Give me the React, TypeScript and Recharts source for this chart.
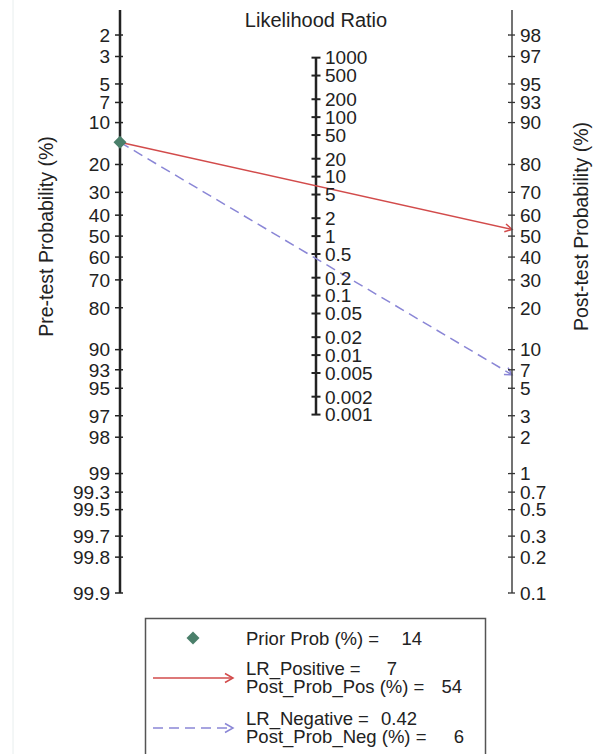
import { ComposedChart, Line, Scatter, XAxis, YAxis } from 'recharts';

const preTestTicks = [2, 3, 5, 7, 10, 20, 30, 40, 50, 60, 70, 80, 90, 93, 95, 97, 98, 99, 99.3, 99.5, 99.7, 99.8, 99.9];
const postTestTicks = [98, 97, 95, 93, 90, 80, 70, 60, 50, 40, 30, 20, 10, 7, 5, 3, 2, 1, 0.7, 0.5, 0.3, 0.2, 0.1];
const lrTicks = [1000, 500, 200, 100, 50, 20, 10, 5, 2, 1, 0.5, 0.2, 0.1, 0.05, 0.02, 0.01, 0.005, 0.002, 0.001];

const priorProb = 14;
const lrPositive = 7;
const lrNegative = 0.42;
const postProbPos = 54;
const postProbNeg = 6;

const FONT = '"Liberation Sans", Arial, sans-serif';
const RED = '#d24b4b';
const BLUE = '#8a86d6';
const GREEN = '#4a7f6a';

// Fagan nomogram: everything lives on one logit scale
const logit = (p: number) => Math.log(p / (100 - p));
const preY = (p: number) => -logit(p);
const postY = (p: number) => logit(p);
const lrY = (lr: number) => Math.log(lr) / 2;

const fmt = (list: number[], toY: (v: number) => number) => (value: number) => {
  const hit = list.find((v) => Math.abs(toY(v) - value) < 1e-6);
  return hit === undefined ? '' : String(hit);
};
const preLabel = fmt(preTestTicks, preY);
const postLabel = fmt(postTestTicks, postY);

const priorPoint = [{ x: 0, y: preY(priorProb) }];
const posLine = [
  { x: 0, y: preY(priorProb) },
  { x: 1, y: logit(priorProb) + Math.log(lrPositive) },
];
const negLine = [
  { x: 0, y: preY(priorProb) },
  { x: 1, y: logit(priorProb) + Math.log(lrNegative) },
];
const lrAxis = lrTicks.map((lr) => ({ x: 0.5, y: lrY(lr), label: String(lr) }));

const DOMAIN: [number, number] = [preY(99.9), 4.376];

const LeftTick = (props: any) => {
  const { x, y, payload } = props;
  return (
    <g>
      <line x1={x - 5} x2={x + 3} y1={y} y2={y} stroke="#222" strokeWidth={1.5} />
      <text x={x - 10} y={y} dy="0.36em" textAnchor="end" fontSize={19} fontFamily={FONT} fill="#222">
        {preLabel(payload.value)}
      </text>
    </g>
  );
};

const RightTick = (props: any) => {
  const { x, y, payload } = props;
  return (
    <g>
      <line x1={x - 4} x2={x + 3} y1={y} y2={y} stroke="#333" strokeWidth={1.3} />
      <text x={x + 8} y={y} dy="0.36em" textAnchor="start" fontSize={19} fontFamily={FONT} fill="#222">
        {postLabel(payload.value)}
      </text>
    </g>
  );
};

const LrTick = (props: any) => {
  const { cx, cy, payload } = props;
  return (
    <g>
      <line x1={cx - 4.5} x2={cx + 4.5} y1={cy} y2={cy} stroke="#222" strokeWidth={2} />
      <text x={cx + 9} y={cy} dy="0.36em" fontSize={19} fontFamily={FONT} fill="#222">
        {payload.label}
      </text>
    </g>
  );
};

const Diamond = (props: any) => {
  const { cx, cy } = props;
  return <path d={`M${cx},${cy - 6.5} L${cx + 6.5},${cy} L${cx},${cy + 6.5} L${cx - 6.5},${cy} Z`} fill={GREEN} />;
};

export default function App() {
  return (
    <div style={{ position: 'absolute', left: 0, top: 0, width: 616, height: 754, background: '#fff', overflow: 'hidden' }}>
      <ComposedChart width={616} height={754} margin={{ top: 10, right: 44, bottom: 161, left: 60 }}>
        <defs>
          <marker id="arrRed" viewBox="-10 -6 12 12" refX="0" refY="0" markerWidth="12" markerHeight="12" orient="auto" markerUnits="userSpaceOnUse">
            <path d="M-7,-4 L0,0 L-7,4" fill="none" stroke={RED} strokeWidth={1.5} />
          </marker>
          <marker id="arrBlue" viewBox="-10 -6 12 12" refX="0" refY="0" markerWidth="12" markerHeight="12" orient="auto" markerUnits="userSpaceOnUse">
            <path d="M-7,-4 L0,0 L-7,4" fill="none" stroke={BLUE} strokeWidth={1.5} />
          </marker>
        </defs>
        <XAxis type="number" dataKey="x" domain={[0, 1]} hide />
        <YAxis
          yAxisId="L"
          type="number"
          domain={DOMAIN}
          ticks={preTestTicks.map(preY)}
          interval={0}
          width={60}
          tickSize={0}
          tickMargin={0}
          tickLine={false}
          axisLine={{ stroke: '#222', strokeWidth: 2.5 }}
          tick={<LeftTick />}
        />
        <YAxis
          yAxisId="R"
          orientation="right"
          type="number"
          domain={DOMAIN}
          ticks={postTestTicks.map(postY)}
          interval={0}
          width={60}
          tickSize={0}
          tickMargin={0}
          tickLine={false}
          axisLine={{ stroke: '#444', strokeWidth: 1.5 }}
          tick={<RightTick />}
        />
        <Line
          yAxisId="L"
          data={lrAxis}
          dataKey="y"
          stroke="#222"
          strokeWidth={2.5}
          dot={(p: any) => <LrTick key={`lr-${p.index}`} {...p} />}
          activeDot={false}
          isAnimationActive={false}
        />
        <Line
          yAxisId="R"
          data={negLine}
          dataKey="y"
          stroke={BLUE}
          strokeWidth={1.5}
          strokeDasharray="10 6"
          dot={false}
          activeDot={false}
          markerEnd="url(#arrBlue)"
          isAnimationActive={false}
        />
        <Line
          yAxisId="R"
          data={posLine}
          dataKey="y"
          stroke={RED}
          strokeWidth={1.5}
          dot={false}
          activeDot={false}
          markerEnd="url(#arrRed)"
          isAnimationActive={false}
        />
        <Scatter yAxisId="L" data={priorPoint} dataKey="y" shape={<Diamond />} isAnimationActive={false} />
      </ComposedChart>

      <svg width={616} height={754} style={{ position: 'absolute', left: 0, top: 0, pointerEvents: 'none' }} fontFamily={FONT} fill="#222">
        <line x1={13} x2={13} y1={0} y2={754} stroke="#e8eeee" strokeWidth={1} />
        <text x={316} y={27} textAnchor="middle" fontSize={20}>Likelihood Ratio</text>
        <text transform="translate(53,236.5) rotate(-90)" textAnchor="middle" fontSize={19.5}>Pre-test Probability (%)</text>
        <text transform="translate(588,226.5) rotate(-90)" textAnchor="middle" fontSize={19.5}>Post-test Probability (%)</text>

        <rect x={145.5} y={618.5} width={340} height={150} fill="none" stroke="#555" strokeWidth={1.5} />
        <path d="M193,631.5 L199.5,638 L193,644.5 L186.5,638 Z" fill={GREEN} />
        <text x={246} y={645} fontSize={18.5}>Prior Prob (%) =</text>
        <text x={422} y={645} fontSize={18.5} textAnchor="end">{priorProb}</text>

        <line x1={153} x2={233} y1={678} y2={678} stroke={RED} strokeWidth={1.5} />
        <path d="M225,673.5 L233,678 L225,682.5" fill="none" stroke={RED} strokeWidth={1.5} />
        <text x={246} y={675} fontSize={18.5}>LR_Positive =</text>
        <text x={397} y={675} fontSize={18.5} textAnchor="end">{lrPositive}</text>
        <text x={246} y={693} fontSize={18.5}>Post_Prob_Pos (%) =</text>
        <text x={462} y={693} fontSize={18.5} textAnchor="end">{postProbPos}</text>

        <line x1={153} x2={233} y1={728} y2={728} stroke={BLUE} strokeWidth={1.5} strokeDasharray="10 6" />
        <path d="M225,723.5 L233,728 L225,732.5" fill="none" stroke={BLUE} strokeWidth={1.5} />
        <text x={246} y={725} fontSize={18.5}>LR_Negative =</text>
        <text x={417} y={725} fontSize={18.5} textAnchor="end">{lrNegative}</text>
        <text x={246} y={743} fontSize={18.5}>Post_Prob_Neg (%) =</text>
        <text x={464} y={743} fontSize={18.5} textAnchor="end">{postProbNeg}</text>
      </svg>
    </div>
  );
}
